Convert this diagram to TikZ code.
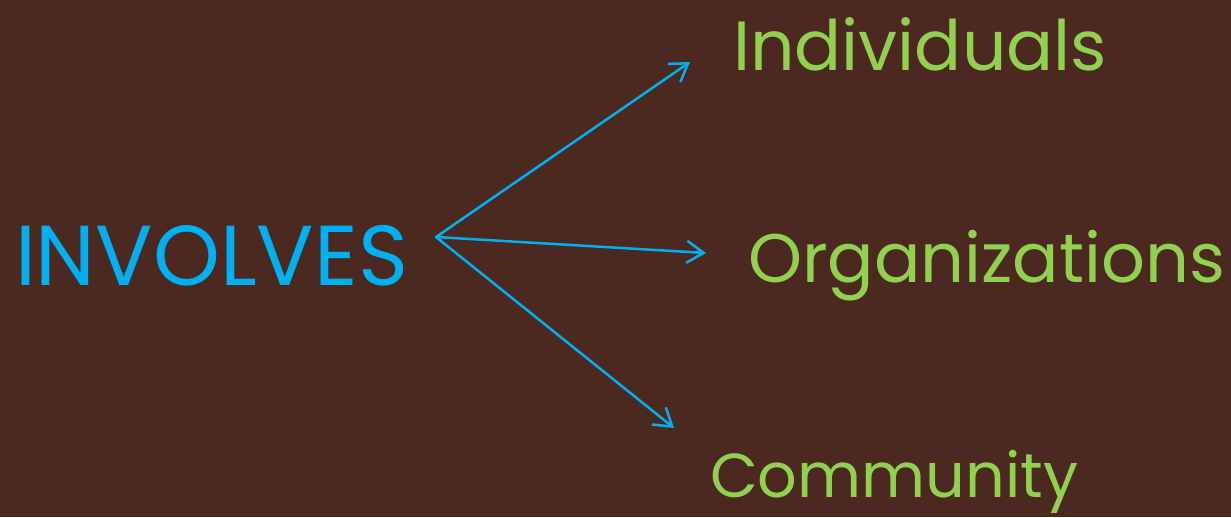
\documentclass[tikz,border=0pt]{standalone}
\usepackage{fontspec}
\setmainfont{Poppins}
\usetikzlibrary{arrows.meta}
\definecolor{bg}{HTML}{4B2820}
\definecolor{sky}{HTML}{00B0F0}
\definecolor{leaf}{HTML}{92D050}
\tikzset{
  word/.style={anchor=base west, inner sep=0pt, outer sep=0pt, font=\fontsize{72}{80}\selectfont},
  link/.style={draw=sky, line width=2.5pt, line cap=round,
    -{Straight Barb[length=17pt,width=22pt]}}
}
\begin{document}
\begin{tikzpicture}[x=1pt,y=-1pt]
  \fill[bg] (0,0) rectangle (1231,517);
  \useasboundingbox (0,0) rectangle (1231,517);

  \node[word, text=sky]  (inv) at (15,285)  {\resizebox{393pt}{!}{INVOLVES}};
  \node[word, text=leaf] (ind) at (733,70)  {\resizebox{374pt}{!}{Individuals}};
  \node[word, text=leaf] (org) at (748,282) {\resizebox{477pt}{!}{Organizations}};
  \node[word, text=leaf] (com) at (710,497) {\resizebox{368pt}{!}{Community}};

  % hub beside the word and the three arrow tips
  \coordinate (hub) at (436,237);
  \coordinate (tipind) at (690,62);
  \coordinate (tiporg) at (706,253);
  \coordinate (tipcom) at (674,428);

  \draw[link] (hub) -- (tipind);
  \draw[link] (hub) -- (tiporg);
  \draw[link] (hub) -- (tipcom);
\end{tikzpicture}
\end{document}
